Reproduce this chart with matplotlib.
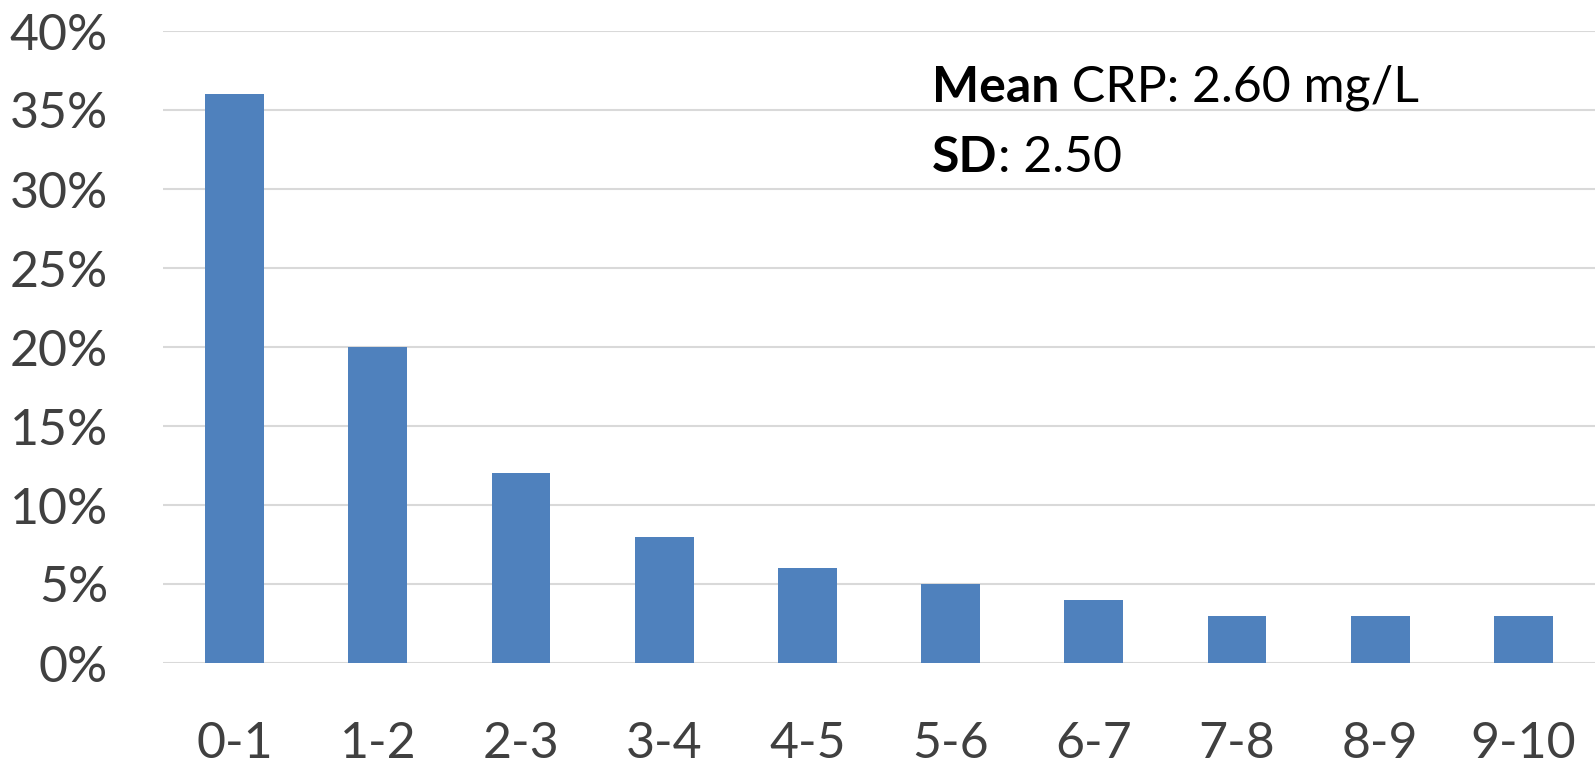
import matplotlib
matplotlib.use('Agg')
from matplotlib import pyplot as plt

categories = ['0-1', '1-2', '2-3', '3-4', '4-5', '5-6', '6-7', '7-8', '8-9', '9-10']
percent = [36, 20, 12, 8, 6, 5, 4, 3, 3, 3]
yticks = [0, 5, 10, 15, 20, 25, 30, 35, 40]

plt.rcParams['font.family'] = ['Lato', 'DejaVu Sans']

fig = plt.figure(figsize=(15.95, 7.66), dpi=100)
ax = fig.add_axes([163/1595, 1-663/766, 1-163/1595, (663-31)/766])

x = list(range(len(categories)))
ax.bar(x, percent, width=0.41, color='#4F81BD', zorder=3)

ax.set_xlim(-0.5, len(categories)-0.5)
ax.set_ylim(0, 40)
ax.set_yticks(yticks)
ax.set_yticklabels([f'{v}%' for v in yticks])
ax.set_xticks(x)
ax.set_xticklabels(categories)
ax.tick_params(axis='both', length=0, labelsize=36, colors='#404040')
ax.tick_params(axis='y', pad=55*0.72)
ax.tick_params(axis='x', pad=58*0.72)
ax.grid(axis='y', color='#D9D9D9', linewidth=1.5, zorder=0)
for s in ax.spines.values():
    s.set_visible(False)

# annotation with mixed bold/regular text
fig.canvas.draw()
r = fig.canvas.get_renderer()
inv = ax.transData.inverted()

def two_part(xpix, ypix, bold, rest):
    xd, yd = inv.transform((xpix, ypix))
    t = ax.text(xd, yd, bold, fontsize=36, fontweight='bold', color='black', va='baseline')
    bb = t.get_window_extent(renderer=r)
    xd2, _ = inv.transform((bb.x1, ypix))
    ax.text(xd2, yd, rest, fontsize=36, color='black', va='baseline')

two_part(932, 766-102, 'Mean', ' CRP: 2.60 mg/L')
two_part(932, 766-172, 'SD', ': 2.50')

fig.savefig('out.png', dpi=100)
